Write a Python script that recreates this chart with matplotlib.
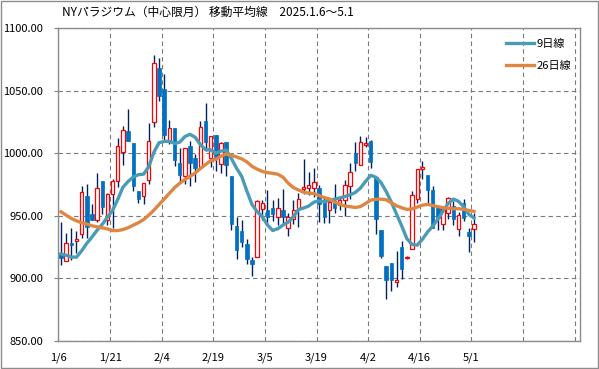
import numpy as np
import pandas as pd
import matplotlib
matplotlib.use('Agg')
import matplotlib.pyplot as plt
from matplotlib.patches import Rectangle

plt.rcParams['font.family'] = ['Noto Sans CJK JP', 'DejaVu Sans']

# daily prices 2025/1/6 - 5/1
opens = [920.6, 914.0, 928.5, 929.9, 935.2, 965.8, 951.3, 947.0, 977.8, 947.0,
         967.7, 977.8, 1001.3, 1017.4, 1007.9, 969.8, 965.8, 978.3, 1025.1, 1068.2,
         1051.6, 1010.0, 1019.8, 992.0, 981.5, 1005.5, 996.0, 988.9, 1025.4, 996.3,
         1014.5, 991.0, 1008.7, 981.5, 941.8, 938.0, 927.5, 914.8, 917.4, 955.8,
         955.0, 955.9, 949.3, 954.3, 940.6, 947.8, 956.5, 971.5, 972.3, 972.3,
         972.3, 963.0, 954.6, 961.2, 958.3, 962.3, 973.6, 1000.0, 990.8, 1006.9,
         1009.8, 981.0, 938.5, 910.2, 912.4, 897.0, 925.3, 916.0, 923.5, 963.6,
         987.3, 982.3, 971.0, 957.8, 943.3, 952.5, 957.8, 939.8, 960.5, 936.7,
         939.8]
highs = [945.2, 936.5, 940.0, 937.8, 973.5, 975.6, 959.8, 984.0, 978.0, 968.0,
         979.6, 1011.9, 1021.4, 1035.7, 1008.0, 970.0, 976.2, 1023.8, 1078.8, 1075.7,
         1063.0, 1026.7, 1020.5, 1004.2, 1004.5, 1010.0, 999.5, 1025.9, 1040.0, 1014.0,
         1014.5, 1008.7, 1008.7, 981.5, 949.2, 947.0, 931.5, 917.4, 963.0, 963.0,
         971.0, 963.0, 964.4, 971.8, 952.5, 962.3, 968.3, 995.2, 984.7, 988.1,
         974.9, 965.7, 964.4, 975.5, 965.7, 978.4, 992.1, 1009.2, 1013.7, 1012.7,
         1010.6, 981.0, 938.5, 910.2, 912.4, 921.7, 930.1, 917.5, 969.6, 987.6,
         993.9, 982.3, 974.1, 957.8, 956.7, 965.2, 961.8, 953.0, 963.6, 940.6,
         952.5]
lows = [910.8, 913.5, 914.8, 920.0, 932.0, 932.0, 946.5, 944.7, 951.3, 943.0,
        940.0, 973.0, 990.2, 1010.0, 969.5, 960.3, 959.8, 975.6, 1020.6, 1041.8,
        1010.0, 1007.4, 989.4, 977.0, 975.6, 973.5, 977.0, 988.9, 1002.0, 988.9,
        985.7, 984.4, 981.5, 938.6, 915.3, 925.4, 911.6, 901.6, 917.0, 947.0,
        943.0, 946.0, 942.5, 943.3, 933.5, 943.3, 941.2, 967.8, 967.0, 965.2,
        945.1, 944.0, 944.0, 952.5, 954.6, 949.9, 963.6, 985.5, 990.8, 1004.8,
        988.1, 935.3, 916.0, 883.9, 889.7, 893.1, 899.7, 915.5, 923.5, 960.6,
        979.5, 958.8, 940.6, 938.8, 938.8, 947.8, 942.5, 934.1, 945.6, 921.4,
        929.4]
closes = [916.1, 928.5, 927.0, 931.3, 969.0, 941.2, 947.0, 972.0, 957.1, 967.2,
          977.8, 1005.5, 1018.8, 1010.0, 973.5, 963.7, 976.0, 1010.0, 1072.2, 1045.8,
          1014.8, 1019.8, 994.2, 982.8, 1004.0, 992.3, 988.0, 1020.6, 1008.7, 1013.5,
          996.8, 1008.2, 990.7, 943.4, 922.7, 928.8, 915.6, 911.4, 961.9, 960.5,
          949.0, 951.2, 955.9, 949.0, 949.3, 954.3, 963.8, 973.1, 974.9, 977.0,
          959.6, 949.3, 961.0, 956.5, 963.0, 974.4, 984.7, 992.1, 1008.7, 1007.9,
          992.6, 947.2, 917.7, 898.4, 898.4, 898.9, 907.6, 917.0, 966.5, 987.3,
          988.7, 970.4, 940.6, 948.5, 956.5, 964.4, 947.2, 950.4, 948.3, 934.1,
          943.8]

# first values of the averages use days before 1/6, so read them off the chart
ma9_head = [919.5, 918.5, 917.0, 917.0, 922.0, 928.0, 933.0, 938.5]
ma26_head = [953.2, 950.5, 947.9, 946.0, 944.4, 943.4, 942.0, 941.2, 940.4, 939.5,
             938.2, 938.2, 939.0, 940.5, 942.5, 944.5, 947.0, 950.5, 954.5, 959.0,
             963.5, 968.0, 972.5, 976.0, 979.0]

date_labels = ['1/6', '1/21', '2/4', '2/19', '3/5', '3/19', '4/2', '4/16', '5/1', '', '']

c = pd.Series(closes)
ma9 = c.rolling(9).mean()
ma9.iloc[:len(ma9_head)] = ma9_head
ma26 = c.rolling(26).mean()
ma26.iloc[:len(ma26_head)] = ma26_head

fig = plt.figure(figsize=(5.99, 3.69), dpi=100)
fig.patches.append(Rectangle((0.001, 0.002), 0.997, 0.995, transform=fig.transFigure,
                             fill=False, edgecolor='#8c8c8c', lw=1))
ax = fig.add_axes([0.0975, 0.0759, 0.8705, 0.8482])

x = np.arange(len(closes))
o = np.array(opens)
cl = np.array(closes)
up = cl >= o
body = np.maximum(np.abs(cl - o), 0.8)
bottom = np.minimum(o, cl)

# candles
ax.vlines(x, lows, highs, color='#002060', lw=1, zorder=2)
ax.bar(x[~up], body[~up], bottom=bottom[~up], width=0.68, color='#0070C0',
       edgecolor='#0070C0', lw=0.5, zorder=3)
ax.bar(x[up], body[up], bottom=bottom[up], width=0.66, color='white',
       edgecolor='#FF0000', lw=0.9, zorder=3)

ax.plot(x, ma9, color='#4A9BB5', lw=2.4, label='9日線', zorder=4)
ax.plot(x, ma26, color='#DE8642', lw=2.4, label='26日線', zorder=4)

ax.set_xlim(-0.5, 100.5)
ax.set_ylim(850, 1100)
ax.set_xticks(np.arange(11) * 10 - 0.5)
ax.set_xticklabels(date_labels, fontsize=8)
ax.set_yticks(np.arange(850, 1101, 50))
ax.set_yticklabels(['%.2f' % v for v in np.arange(850, 1101, 50)], fontsize=8)
ax.tick_params(axis='x', length=0, pad=8)
ax.tick_params(axis='y', length=3, color='#808080', pad=8)
ax.grid(True, color='#7a7a7a', ls=(0, (4, 3)), lw=0.8)
ax.set_axisbelow(True)
for s in ax.spines.values():
    s.set_color('#8c8c8c')
    s.set_linewidth(1)

fig.text(62 / 599, 1 - 12 / 369, 'NYパラジウム（中心限月） 移動平均線　2025.1.6〜5.1',
         fontsize=8.5, va='center', ha='left')

ax.legend(loc='upper left', bbox_to_anchor=(500 / 599, 1 - 33 / 369),
          bbox_transform=fig.transFigure, frameon=False, fontsize=8,
          handlelength=2.6, handletextpad=0.2, labelspacing=1.1, borderpad=0)

fig.savefig('out.png', dpi=100)
